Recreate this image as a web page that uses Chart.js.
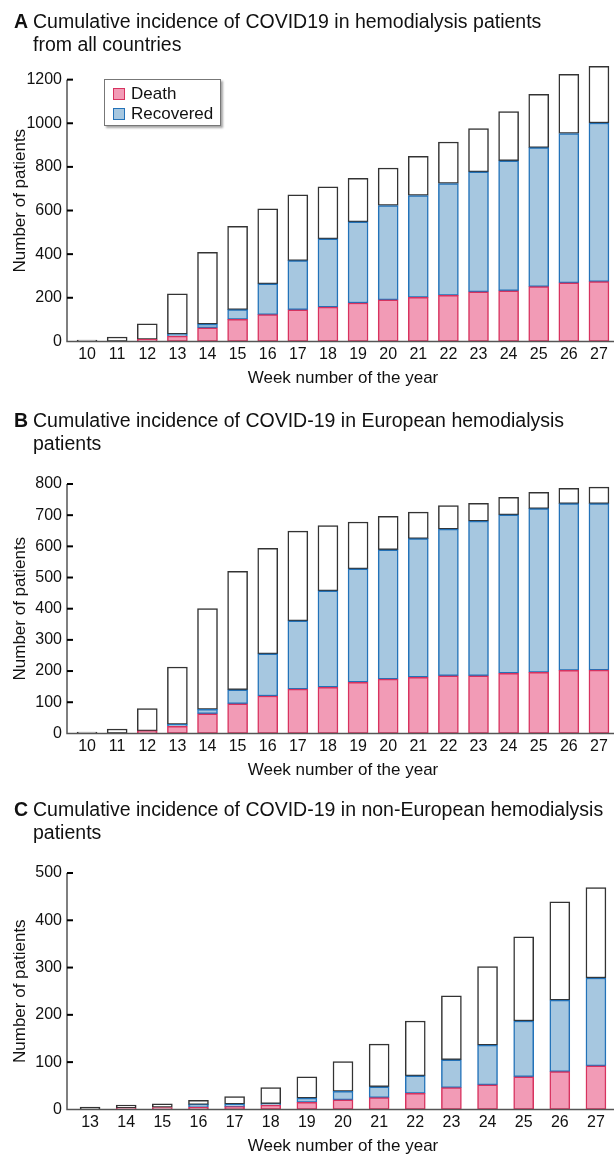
<!DOCTYPE html>
<html>
<head>
<meta charset="utf-8">
<script src="https://cdn.jsdelivr.net/npm/chart.js"></script>
<style>
  body { margin: 0; overflow: hidden; background: #fff; font-family: "Liberation Sans", Arial, sans-serif; color: #111; }
  #page { position: relative; width: 614px; height: 1154px; overflow: hidden; }
  canvas { position: absolute; left: 0; }
  .ttl { position: absolute; left: 33px; font-size: 19.5px; line-height: 23px; white-space: nowrap; }
  .ttl b { position: absolute; left: -19px; top: 0; }
  #legend { position: absolute; left: 104px; top: 79px; width: 115px; height: 45px; background: #fff;
            border: 1px solid #777; box-shadow: 2px 2px 2px rgba(0,0,0,0.35); font-size: 17px; }
  #legend div { position: absolute; left: 26px; line-height: 20px; }
  #legend span { position: absolute; left: -18px; top: 4px; width: 10px; height: 10px; border: 1.5px solid; }
</style>
</head>
<body>
<div id="page">
  <canvas id="chartA" width="614" height="392" style="top:0"></canvas>
  <canvas id="chartB" width="614" height="392" style="top:392px"></canvas>
  <canvas id="chartC" width="614" height="376" style="top:784px"></canvas>

  <div class="ttl" style="top:10px"><b>A</b>Cumulative incidence of COVID19 in hemodialysis patients<br>from all countries</div>
  <div class="ttl" style="top:409px"><b>B</b>Cumulative incidence of COVID-19 in European hemodialysis<br>patients</div>
  <div class="ttl" style="top:798px"><b>C</b>Cumulative incidence of COVID-19 in non-European hemodialysis<br>patients</div>

  <div id="legend"></div>
</div>

<script>
// panel A - all countries
const weeksAll = ['10','11','12','13','14','15','16','17','18','19','20','21','22','23','24','25','26','27'];
const deathAll = [0, 0, 9, 24, 62, 101, 123, 145, 157, 176, 190, 202, 211, 227, 232, 251, 268, 274];
const recoveredAll = [0, 0, 0, 9, 17, 45, 141, 225, 313, 372, 433, 467, 513, 550, 596, 637, 685, 727];
const totalAll = [6, 20, 80, 218, 408, 527, 608, 672, 709, 747, 795, 848, 914, 976, 1053, 1133, 1224, 1261];

// panel B - European patients
const weeksEu = ['10','11','12','13','14','15','16','17','18','19','20','21','22','23','24','25','26','27'];
const deathEu = [0, 0, 8, 23, 63, 95, 120, 142, 148, 164, 174, 180, 185, 185, 193, 196, 202, 203];
const recoveredEu = [0, 0, 0, 6, 14, 45, 135, 219, 309, 364, 415, 445, 470, 496, 508, 525, 535, 534];
const totalEu = [4, 14, 80, 213, 400, 520, 594, 649, 667, 678, 696, 710, 731, 738, 757, 773, 786, 790];

// panel C - non-European patients
const weeksNonEu = ['13','14','15','16','17','18','19','20','21','22','23','24','25','26','27'];
const deathNonEu = [0, 3, 4, 5, 6, 9, 15, 20, 25, 34, 46, 52, 69, 80, 92];
const recoveredNonEu = [0, 0, 0, 5, 5, 3, 9, 18, 23, 37, 59, 84, 118, 151, 186];
const totalNonEu = [5, 9, 12, 19, 27, 46, 69, 101, 138, 187, 240, 302, 365, 439, 469];

const seriesNames = ['Death', 'Recovered'];
const fills = ['#f29bb6', '#a6c7e0', '#ffffff'];
const edges = ['#d7335f', '#2372b8', '#333333'];

Chart.defaults.font.family = '"Liberation Sans", Arial, sans-serif';
Chart.defaults.color = '#111';

// y axis drawn a few px left of the bars, ticks pointing inward, line stops at last tick
const axisLines = {
  id: 'axisLines',
  afterDatasetsDraw(chart) {
    const {ctx, chartArea, scales: {y}} = chart;
    const x0 = chartArea.left - 5;
    const y0 = y.getPixelForValue(0);
    const yTop = y.getPixelForValue(y.ticks[y.ticks.length - 1].value);
    ctx.save();
    ctx.strokeStyle = '#555';
    ctx.lineWidth = 1.5;
    ctx.beginPath();
    ctx.moveTo(x0, yTop);
    ctx.lineTo(x0, y0);
    ctx.lineTo(chartArea.right, y0);
    ctx.stroke();
    ctx.strokeStyle = '#000';
    ctx.lineWidth = 2;
    y.ticks.forEach(t => {
      if (t.value === 0) return;
      const py = y.getPixelForValue(t.value);
      ctx.beginPath();
      ctx.moveTo(x0, py);
      ctx.lineTo(x0 + 6, py);
      ctx.stroke();
    });
    ctx.restore();
  }
};

function makeChart(id, weeks, death, recovered, total, yMax, yStep, padTop) {
  const active = total.map((t, i) => t - death[i] - recovered[i]);
  return new Chart(id, {
    type: 'bar',
    data: {
      labels: weeks,
      datasets: [
        { label: seriesNames[0], data: death, backgroundColor: fills[0], borderColor: edges[0] },
        { label: seriesNames[1], data: recovered, backgroundColor: fills[1], borderColor: edges[1] },
        { label: 'Active', data: active, backgroundColor: fills[2], borderColor: edges[2] }
      ]
    },
    options: {
      responsive: false,
      animation: false,
      layout: { padding: { top: padTop, left: 0, right: 0, bottom: 0 } },
      datasets: { bar: { barThickness: 20, borderWidth: 1.5, borderSkipped: false } },
      plugins: { legend: { display: false }, tooltip: { enabled: false } },
      scales: {
        x: {
          stacked: true,
          grid: { display: false, drawTicks: false },
          border: { display: false },
          ticks: { padding: 4, font: { size: 16 }, maxRotation: 0, autoSkip: false },
          title: { display: true, text: 'Week number of the year', font: { size: 17 }, padding: { top: 0, bottom: 3 } }
        },
        y: {
          stacked: true,
          min: 0,
          max: yMax,
          grid: { display: false, drawTicks: false },
          border: { display: false },
          ticks: { stepSize: yStep, padding: 10, font: { size: 16 }, callback: v => String(v) },
          afterBuildTicks: s => { s.ticks = s.ticks.filter(t => t.value % yStep === 0); },
          afterFit: s => { s.width = 72; },
          title: { display: true, text: 'Number of patients', font: { size: 17 }, padding: { top: 10, bottom: 0 } }
        }
      }
    },
    plugins: [axisLines]
  });
}

makeChart('chartA', weeksAll, deathAll, recoveredAll, totalAll, 1290, 200, 60);
makeChart('chartB', weeksEu, deathEu, recoveredEu, totalEu, 800, 100, 92);
makeChart('chartC', weeksNonEu, deathNonEu, recoveredNonEu, totalNonEu, 500, 100, 89);

// legend box for panel A
const legend = document.getElementById('legend');
seriesNames.forEach((name, i) => {
  const item = document.createElement('div');
  item.style.top = (4 + i * 20) + 'px';
  item.innerHTML = '<span style="background:' + fills[i] + ';border-color:' + edges[i] + '"></span>' + name;
  legend.appendChild(item);
});
</script>
</body>
</html>
